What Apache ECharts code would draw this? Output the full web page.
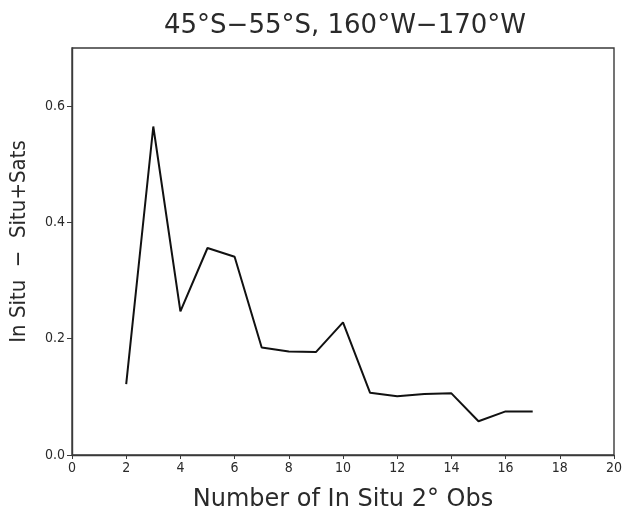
<!DOCTYPE html>
<html>
<head>
    <meta charset="UTF-8">
    <title>45°S−55°S, 160°W−170°W</title>
    <script src="https://cdn.jsdelivr.net/npm/echarts@6/dist/echarts.min.js"></script>
    <style>
        html, body {
            margin: 0;
            padding: 0;
            background: #fff;
        }
        #chart {
            width: 628px;
            height: 512px;
        }
    </style>
</head>
<body>
<div id="chart"></div>
<script>
    // 观测数 (x) 与差值 (y)
    var obsCount = [2, 3, 4, 5, 6, 7, 8, 9, 10, 11, 12, 13, 14, 15, 16, 17];
    var diffValues = [0.122, 0.565, 0.247, 0.356, 0.341, 0.185, 0.178, 0.177,
                      0.228, 0.107, 0.101, 0.105, 0.106, 0.058, 0.075, 0.075];
    var xTicks = [0, 2, 4, 6, 8, 10, 12, 14, 16, 18, 20];
    var yTicks = [0.0, 0.2, 0.4, 0.6];

    var condensed = "'DejaVu Sans Condensed', 'Liberation Sans Narrow', sans-serif";
    var regular = "'DejaVu Sans', sans-serif";

    var chart = echarts.init(document.getElementById('chart'));

    var option = {
        backgroundColor: '#fff',
        animation: false,
        title: {
            text: '45°S−55°S, 160°W−170°W',
            left: 340,
            textAlign: 'center',
            top: 8,
            textStyle: {
                fontFamily: regular,
                fontWeight: 'normal',
                fontSize: 26,
                color: '#2a2a2a'
            }
        },
        grid: {
            left: 72,
            right: 14,
            top: 48,
            bottom: 57,
            outerBoundsMode: 'none',
            show: true,
            borderColor: '#3a3a3a',
            borderWidth: 1.4
        },
        xAxis: {
            type: 'value',
            min: xTicks[0],
            max: xTicks[xTicks.length - 1],
            interval: 2,
            name: 'Number of In Situ 2° Obs',
            nameLocation: 'middle',
            nameGap: 33,
            nameTextStyle: {
                fontFamily: regular,
                fontSize: 24,
                color: '#2a2a2a'
            },
            axisLine: { lineStyle: { color: '#3a3a3a', width: 1.4 } },
            axisTick: { show: true, inside: false, length: 4, lineStyle: { color: '#3a3a3a' } },
            axisLabel: {
                margin: 6,
                fontFamily: condensed,
                fontSize: 14,
                color: '#2a2a2a',
                formatter: function (v) {
                    return xTicks.indexOf(v) >= 0 ? String(v) : '';
                }
            },
            splitLine: { show: false }
        },
        yAxis: {
            type: 'value',
            min: 0,
            max: 0.7,
            interval: 0.2,
            name: 'In Situ  −  Situ+Sats',
            nameLocation: 'middle',
            nameGap: 42,
            nameTextStyle: {
                fontFamily: condensed,
                fontSize: 22,
                color: '#2a2a2a',
                padding: [0, 0, 0, 20]
            },
            axisLine: { show: true, lineStyle: { color: '#3a3a3a', width: 1.4 } },
            axisTick: { show: true, inside: false, length: 5, lineStyle: { color: '#3a3a3a' } },
            axisLabel: {
                margin: 7,
                fontFamily: condensed,
                fontSize: 14,
                color: '#2a2a2a',
                showMaxLabel: false,
                formatter: function (v) {
                    var r = Math.round(v * 10) / 10;
                    return yTicks.indexOf(r) >= 0 && Math.abs(v - r) < 1e-9 ? r.toFixed(1) : '';
                }
            },
            splitLine: { show: false }
        },
        series: [{
            type: 'line',
            data: obsCount.map(function (x, i) { return [x, diffValues[i]]; }),
            showSymbol: false,
            symbol: 'none',
            lineStyle: { color: '#111', width: 2 }
        }]
    };

    chart.setOption(option);
</script>
</body>
</html>
